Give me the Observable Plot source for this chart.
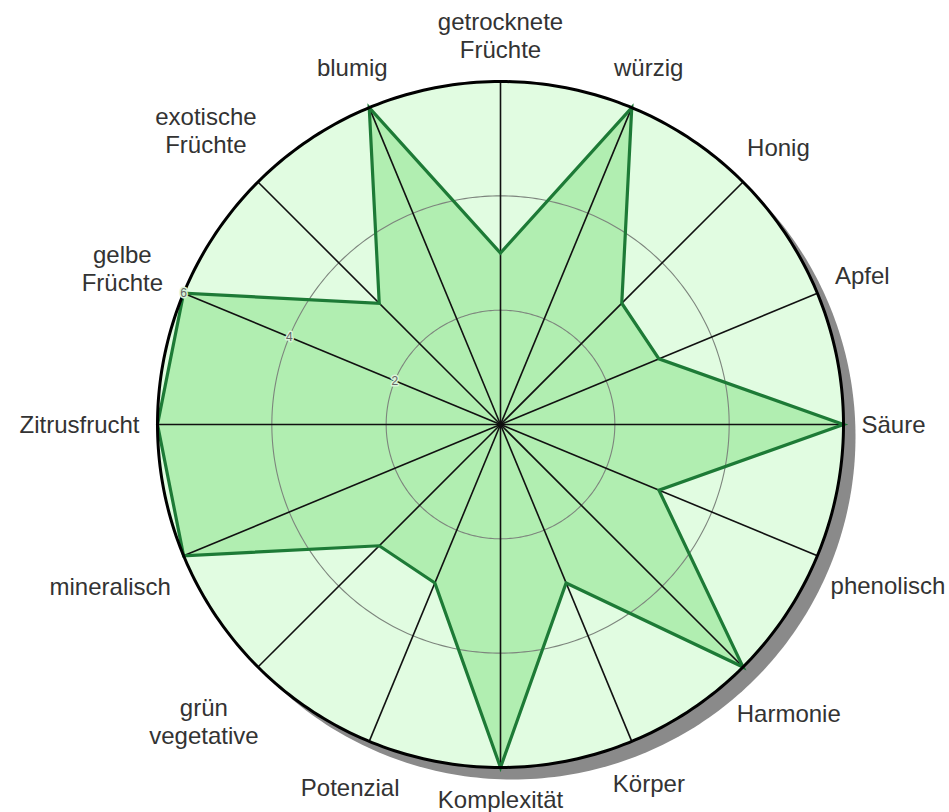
<!DOCTYPE html>
<html>
<head>
<meta charset="utf-8">
<script src="https://cdn.jsdelivr.net/npm/d3@7"></script>
<script src="https://cdn.jsdelivr.net/npm/@observablehq/plot@0.6"></script>
<style>
  html, body { margin: 0; padding: 0; background: #fff; }
  #chart svg { display: block; }
</style>
</head>
<body>
<div id="chart"></div>
<script>
// ---- data ----
const axes = ["getrocknete\nFrüchte", "würzig", "Honig", "Apfel", "Säure", "phenolisch", "Harmonie", "Körper",
              "Komplexität", "Potenzial", "grün\nvegetative", "mineralisch", "Zitrusfrucht", "gelbe\nFrüchte",
              "exotische\nFrüchte", "blumig"];
const values = [3, 6, 3, 3, 6, 3, 6, 3, 6, 3, 3, 6, 6, 6, 3, 6];
const ringTicks = [2, 4];
const tickLabels = [2, 4, 6];
const maxValue = 6;
const tickAxisIndex = 13; // ticks shown on "gelbe Früchte" spoke

// ---- layout ----
const W = 949, H = 812;
const cx = 500, cy = 424, outerR = 343;
const k = outerR / maxValue; // px per unit
const n = axes.length;
const ang = i => i * 2 * Math.PI / n;

const poly = values.map((v, i) => ({axis: axes[i], x: v * Math.sin(ang(i)), y: v * Math.cos(ang(i))}));
const circle = r => d3.range(0, 360, 1).map(a => ({x: r * Math.sin(a * Math.PI / 180), y: r * Math.cos(a * Math.PI / 180)}));
const rings = ringTicks.flatMap(t => circle(t).map(p => ({...p, t})));
const outer = circle(maxValue);
const spokes = axes.map((a, i) => ({x2: maxValue * Math.sin(ang(i)), y2: maxValue * Math.cos(ang(i))}));

// label positions: box pushed radially outward so that it just clears radius R0
const fontSize = 24;
const fontFam = "'Liberation Sans', Arial, sans-serif";
const ctx = document.createElement("canvas").getContext("2d");
ctx.font = `${fontSize}px ${fontFam}`;
const lineH = 28;
const R0 = 361;
const labels = axes.map((a, i) => {
  const lines = a.split("\n");
  const w = d3.max(lines, l => ctx.measureText(l).width);
  const h = lines.length * lineH;
  const s = Math.sin(ang(i)), c = Math.cos(ang(i));
  const d = R0 + Math.abs(s) * w / 2 + Math.abs(c) * h / 2;
  return {text: a, x: d * s / k, y: d * c / k};
});
const tickData = tickLabels.map(t => ({t, x: t * Math.sin(ang(tickAxisIndex)), y: t * Math.cos(ang(tickAxisIndex))}));

const chart = Plot.plot({
  width: W, height: H,
  margin: 0,
  x: {domain: [-cx / k, (W - cx) / k], axis: null},
  y: {domain: [-(H - cy) / k, cy / k], axis: null},
  style: {fontFamily: fontFam, background: "#fff"},
  marks: [
    Plot.line(outer, {x: "x", y: "y", curve: "linear-closed", fill: "#8a8a8a", stroke: "none", dx: 12, dy: 12}),
    Plot.line(outer, {x: "x", y: "y", curve: "linear-closed", fill: "#e1fce1", stroke: "none"}),
    Plot.line(poly, {x: "x", y: "y", curve: "linear-closed", fill: "#b1eeb1", stroke: "none"}),
    Plot.line(rings, {x: "x", y: "y", z: "t", curve: "linear-closed", stroke: "#7d857d", strokeWidth: 1.1}),
    Plot.link(spokes, {x1: 0, y1: 0, x2: "x2", y2: "y2", stroke: "#111", strokeWidth: 1.6}),
    Plot.line(poly, {x: "x", y: "y", curve: "linear-closed", fill: "none", stroke: "#1d7a36", strokeWidth: 3.2,
                     strokeLinejoin: "miter", strokeMiterlimit: 20}),
    Plot.line(outer, {x: "x", y: "y", curve: "linear-closed", fill: "none", stroke: "#000", strokeWidth: 3}),
    Plot.text(tickData, {x: "x", y: "y", text: d => String(d.t), fontSize: 12, fill: "#666",
                         stroke: "#d8f4d8", strokeWidth: 3, paintOrder: "stroke"}),
    Plot.text(labels, {x: "x", y: "y", text: "text", fontSize: fontSize, fill: "#333", textAnchor: "middle",
                       lineAnchor: "middle", lineHeight: lineH / fontSize})
  ]
});
document.getElementById("chart").appendChild(chart);
</script>
</body>
</html>
